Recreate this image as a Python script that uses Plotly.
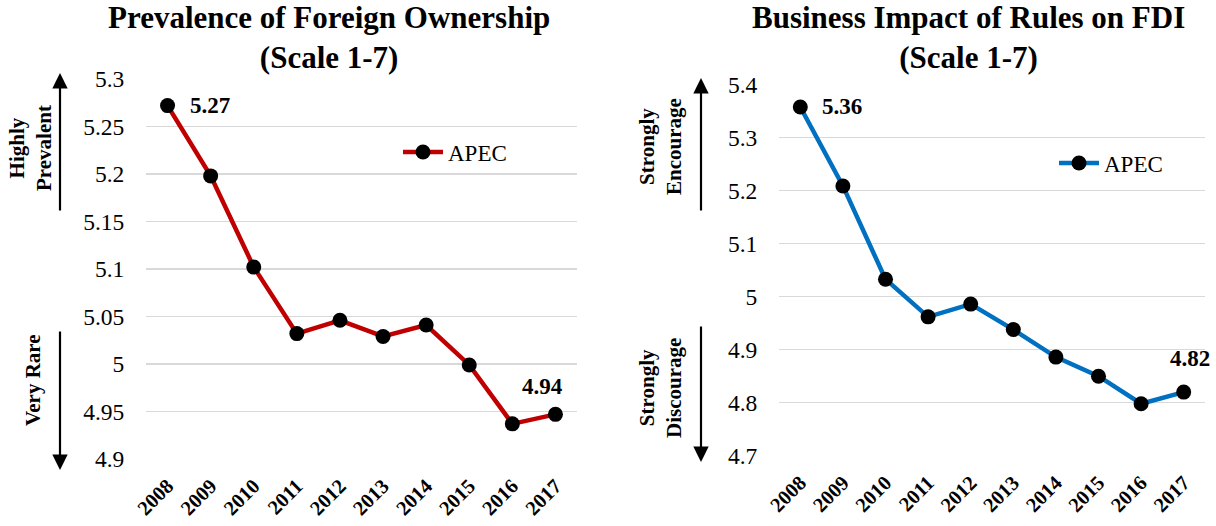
import plotly.graph_objects as go

years = ["2008", "2009", "2010", "2011", "2012", "2013", "2014", "2015", "2016", "2017"]
prevalence = [5.272, 5.198, 5.102, 5.032, 5.046, 5.029, 5.041, 4.999, 4.937, 4.947]
business_impact = [5.358, 5.209, 5.033, 4.962, 4.986, 4.938, 4.886, 4.850, 4.798, 4.820]
prev_end_labels = ["5.27", "4.94"]
biz_end_labels = ["5.36", "4.82"]
series_name = "APEC"

left_title = "Prevalence of Foreign Ownership<br>(Scale 1-7)"
right_title = "Business Impact of Rules on FDI<br>(Scale 1-7)"
left_ticks = [4.9, 4.95, 5.0, 5.05, 5.1, 5.15, 5.2, 5.25, 5.3]
left_ticktext = ["4.9", "4.95", "5", "5.05", "5.1", "5.15", "5.2", "5.25", "5.3"]
right_ticks = [4.7, 4.8, 4.9, 5.0, 5.1, 5.2, 5.3, 5.4]
right_ticktext = ["4.7", "4.8", "4.9", "5", "5.1", "5.2", "5.3", "5.4"]

W, H = 1216, 526
FONT = "Liberation Serif"
RED = "#C00000"
BLUE = "#0070C0"
GRID = "#D9D9D9"

def px(x):
    return x / W

def py(y):
    return 1 - y / H

fig = go.Figure()
xs = list(range(len(years)))

fig.add_trace(go.Scatter(
    x=xs, y=prevalence, mode="lines+markers", name=series_name,
    line=dict(color=RED, width=4.5), marker=dict(color="black", size=15),
    xaxis="x", yaxis="y", legend="legend", showlegend=True))
fig.add_trace(go.Scatter(
    x=xs, y=business_impact, mode="lines+markers", name=series_name,
    line=dict(color=BLUE, width=4.5), marker=dict(color="black", size=15),
    xaxis="x2", yaxis="y2", legend="legend2", showlegend=True))

tickfont = dict(family=FONT, size=23.5, color="black")
xtickfont = dict(family=FONT, size=20.5, color="black", weight="bold")

common_x = dict(tickmode="array", tickvals=xs, ticktext=years, range=[-0.5, len(years) - 0.5],
                tickangle=-45, tickfont=xtickfont, showgrid=False, zeroline=False, showline=False,
                ticks="outside", ticklen=6, tickcolor="rgba(0,0,0,0)", fixedrange=True,
                automargin=False)
common_y = dict(tickfont=tickfont, showgrid=True, gridcolor=GRID, gridwidth=1.5, zeroline=False,
                showline=False, ticks="outside", ticklen=16, tickcolor="rgba(0,0,0,0)", fixedrange=True,
                automargin=False)

fig.update_layout(
    width=W, height=H, margin=dict(l=0, r=0, t=0, b=0, autoexpand=False),
    paper_bgcolor="white", plot_bgcolor="white",
    font=dict(family=FONT, color="black"),
    xaxis=dict(domain=[px(146), px(577)], anchor="y", **common_x),
    yaxis=dict(domain=[py(459), py(79)], anchor="x", range=[4.9, 5.3],
               tickmode="array", tickvals=left_ticks, ticktext=left_ticktext, **common_y),
    xaxis2=dict(domain=[px(779), px(1205)], anchor="y2", **common_x),
    yaxis2=dict(domain=[py(455.7), py(84.7)], anchor="x2", range=[4.7, 5.4],
                tickmode="array", tickvals=right_ticks, ticktext=right_ticktext, **common_y),
    legend=dict(x=px(398), y=py(152), xanchor="left", yanchor="middle",
                font=dict(family=FONT, size=23, color="black"), bgcolor="rgba(0,0,0,0)",
                itemwidth=40),
    legend2=dict(x=px(1054), y=py(163), xanchor="left", yanchor="middle",
                 font=dict(family=FONT, size=23, color="black"), bgcolor="rgba(0,0,0,0)",
                 itemwidth=40),
)

annotations = []
# Titles
title_font = dict(family=FONT, size=31, color="black", weight="bold")
annotations.append(dict(text=left_title, x=px(329), y=py(38), xref="paper", yref="paper",
                        xanchor="center", yanchor="middle", showarrow=False, font=title_font))
annotations.append(dict(text=right_title, x=px(968), y=py(38), xref="paper", yref="paper",
                        xanchor="center", yanchor="middle", showarrow=False, font=title_font))

# Data labels for first and last points
lab_font = dict(family=FONT, size=23, color="black", weight="bold")
annotations.append(dict(text=prev_end_labels[0], x=xs[0], y=prevalence[0], xref="x", yref="y",
                        xanchor="left", yanchor="middle", xshift=20, showarrow=False, font=lab_font))
annotations.append(dict(text=prev_end_labels[1], x=xs[-1], y=prevalence[-1], xref="x", yref="y",
                        xanchor="center", yanchor="middle", xshift=-13, yshift=28, showarrow=False,
                        font=lab_font))
annotations.append(dict(text=biz_end_labels[0], x=xs[0], y=business_impact[0], xref="x2", yref="y2",
                        xanchor="left", yanchor="middle", xshift=20, showarrow=False, font=lab_font))
annotations.append(dict(text=biz_end_labels[1], x=xs[-1], y=business_impact[-1], xref="x2", yref="y2",
                        xanchor="center", yanchor="middle", xshift=6, yshift=34, showarrow=False,
                        font=lab_font))

# Side arrows
def arrow(x, y_head, y_tail):
    return dict(x=px(x), y=py(y_head), xref="paper", yref="paper", ax=0, ay=y_tail - y_head,
                axref="pixel", ayref="pixel", text="", showarrow=True, arrowhead=2,
                arrowsize=1.4, arrowwidth=2.2, arrowcolor="black")

annotations += [arrow(60, 73, 212), arrow(60, 470, 330), arrow(701, 78, 212), arrow(701, 462, 325)]

side_font = dict(family=FONT, size=21, color="black", weight="bold")
for txt, x, y in [("Highly<br>Prevalent", 31, 148), ("Very Rare", 33, 380),
                  ("Strongly<br>Encourage", 660, 147), ("Strongly<br>Discourage", 660, 388)]:
    annotations.append(dict(text=txt, x=px(x), y=py(y), xref="paper", yref="paper",
                            xanchor="center", yanchor="middle", textangle=-90, showarrow=False,
                            font=side_font))

fig.update_layout(annotations=annotations)

fig.write_html("out.html", config={"displayModeBar": False, "staticPlot": True},
               post_script="document.body.style.margin='0px';")
